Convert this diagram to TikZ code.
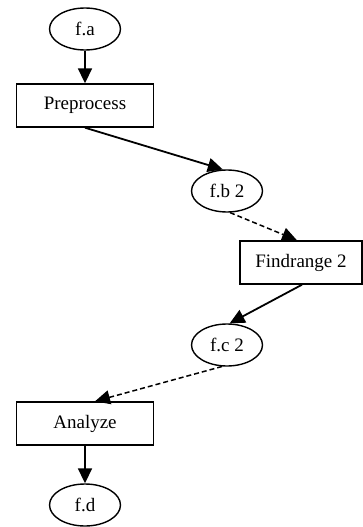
\documentclass[tikz,border=0pt]{standalone}
\usepackage{fontspec}
\setmainfont{Liberation Serif}
\usetikzlibrary{shapes.geometric,arrows.meta}

\tikzset{
  file/.style={ellipse, draw, line width=1.4pt, minimum width=71pt, minimum height=42pt, inner sep=0pt},
  task/.style={rectangle, draw, line width=1.4pt, minimum height=43pt, inner sep=0pt},
  flow/.style={line width=1.8pt, -{Triangle[length=15pt,width=14pt]}},
  weak/.style={flow, line width=1.5pt, dash pattern=on 5pt off 3pt}
}

\begin{document}
\begin{tikzpicture}[x=1pt, y=-1pt, font=\fontsize{19pt}{22pt}\selectfont]
  \useasboundingbox (0,0) rectangle (363,527);

  % data files
  \node[file] (fa) at (85,29) {f.a};
  \node[file] (fb) at (227,191) {f.b 2};
  \node[file] (fc) at (227,345) {f.c 2};
  \node[file] (fd) at (85,505) {f.d};

  % processing steps
  \node[task, minimum width=137pt] (pre) at (85,105.5) {Preprocess};
  \node[task, minimum width=122pt] (fr)  at (301,262.5) {Findrange 2};
  \node[task, minimum width=137pt] (an)  at (85,423.5) {Analyze};

  % data flow
  \draw[flow] (fa) -- (pre);
  \draw[flow] (pre.south) -- (fb.101);
  \draw[weak] (fb.278) -- ([xshift=-4pt]fr.north);
  \draw[flow] ([xshift=1pt]fr.south) -- (fc.83);
  \draw[weak] (fc.257) -- ([xshift=10pt]an.north);
  \draw[flow] (an) -- (fd);
\end{tikzpicture}
\end{document}
